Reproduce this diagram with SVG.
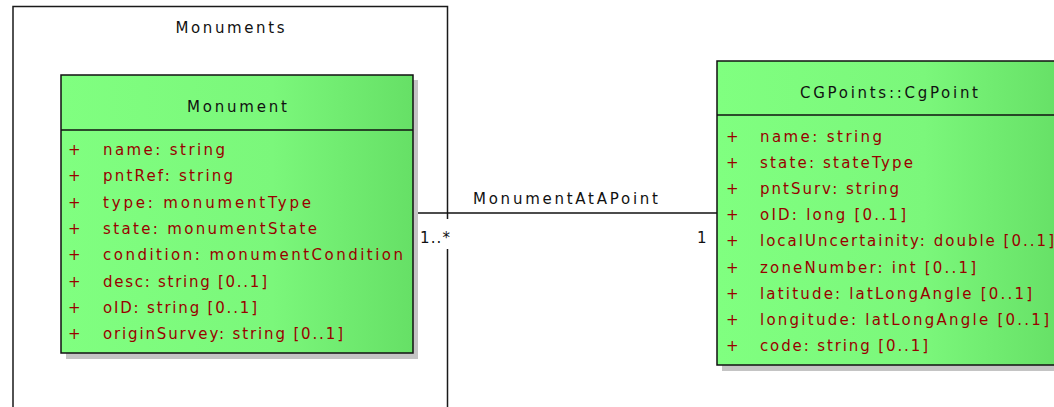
<svg xmlns="http://www.w3.org/2000/svg" width="1054" height="407" viewBox="0 0 1054 407">
<defs>
<linearGradient id="g" x1="0" y1="0" x2="1" y2="0">
<stop offset="0" stop-color="#80FF80"/>
<stop offset="0.6" stop-color="#7BF77B"/>
<stop offset="1" stop-color="#66E066"/>
</linearGradient>
<style>
.frame{fill:none;stroke:#1a1a1a;stroke-width:1.5}
.box{fill:url(#g);stroke:#111;stroke-width:1.5}
.shadow{fill:#c4c4c4}
.div{stroke:#111;stroke-width:1.5}
.t{font-family:"DejaVu Sans","Liberation Sans",Arial,sans-serif;font-size:15px;fill:#111}
.a{font-family:"DejaVu Sans","Liberation Sans",Arial,sans-serif;font-size:15px;fill:#990000}
.conn{stroke:#111;stroke-width:1.3;fill:none}
</style>
</defs>
<rect width="1054" height="407" fill="#fff"/>
<g id="package-Monuments">
<path class="frame" d="M13,410 V6.5 H447.5 V410"/>
<text class="t" x="230" y="33" text-anchor="middle" textLength="109" lengthAdjust="spacing">Monuments</text>
</g>
<g id="connectors">
<line class="conn" x1="413" y1="213" x2="717" y2="213"/>
<text class="t" x="473" y="204" textLength="185" lengthAdjust="spacing">MonumentAtAPoint</text>
<rect x="416" y="219" width="36" height="30" fill="#fff"/>
<text class="t" x="420" y="243" textLength="30" lengthAdjust="spacing">1..*</text>
<text class="t" x="697" y="243">1</text>
</g>
<g id="Monument">
<rect class="shadow" x="66" y="80" width="352" height="279"/>
<rect class="box" x="61" y="75" width="352" height="278"/>
<line class="div" x1="61" y1="130" x2="413" y2="130"/>
<text class="t" x="237" y="112" text-anchor="middle" textLength="100" lengthAdjust="spacing">Monument</text>
<g class="a">
<text x="68" y="155">+</text><text x="103" y="155" textLength="122" lengthAdjust="spacing">name: string</text>
<text x="68" y="181.3">+</text><text x="103" y="181.3" textLength="130" lengthAdjust="spacing">pntRef: string</text>
<text x="68" y="207.6">+</text><text x="103" y="207.6" textLength="208" lengthAdjust="spacing">type: monumentType</text>
<text x="68" y="233.9">+</text><text x="103" y="233.9" textLength="214" lengthAdjust="spacing">state: monumentState</text>
<text x="68" y="260.2">+</text><text x="103" y="260.2" textLength="300" lengthAdjust="spacing">condition: monumentCondition</text>
<text x="68" y="286.5">+</text><text x="103" y="286.5" textLength="164" lengthAdjust="spacing">desc: string [0..1]</text>
<text x="68" y="312.8">+</text><text x="103" y="312.8" textLength="154" lengthAdjust="spacing">oID: string [0..1]</text>
<text x="68" y="339">+</text><text x="103" y="339" textLength="240" lengthAdjust="spacing">originSurvey: string [0..1]</text>
</g>
</g>
<g id="CgPoint">
<rect class="shadow" x="722" y="66" width="345" height="305"/>
<rect class="box" x="717" y="61" width="345" height="304"/>
<line class="div" x1="717" y1="115" x2="1062" y2="115"/>
<text class="t" x="889" y="98" text-anchor="middle" textLength="178" lengthAdjust="spacing">CGPoints::CgPoint</text>
<g class="a">
<text x="726" y="141.5">+</text><text x="760" y="141.5" textLength="122" lengthAdjust="spacing">name: string</text>
<text x="726" y="167.7">+</text><text x="760" y="167.7" textLength="153" lengthAdjust="spacing">state: stateType</text>
<text x="726" y="194">+</text><text x="760" y="194" textLength="139" lengthAdjust="spacing">pntSurv: string</text>
<text x="726" y="220.2">+</text><text x="760" y="220.2" textLength="146" lengthAdjust="spacing">oID: long [0..1]</text>
<text x="726" y="246.4">+</text><text x="760" y="246.4" textLength="294" lengthAdjust="spacing">localUncertainity: double [0..1]</text>
<text x="726" y="272.6">+</text><text x="760" y="272.6" textLength="216" lengthAdjust="spacing">zoneNumber: int [0..1]</text>
<text x="726" y="298.8">+</text><text x="760" y="298.8" textLength="272" lengthAdjust="spacing">latitude: latLongAngle [0..1]</text>
<text x="726" y="325">+</text><text x="760" y="325" textLength="289" lengthAdjust="spacing">longitude: latLongAngle [0..1]</text>
<text x="726" y="351.2">+</text><text x="760" y="351.2" textLength="168" lengthAdjust="spacing">code: string [0..1]</text>
</g>
</g>
</svg>
